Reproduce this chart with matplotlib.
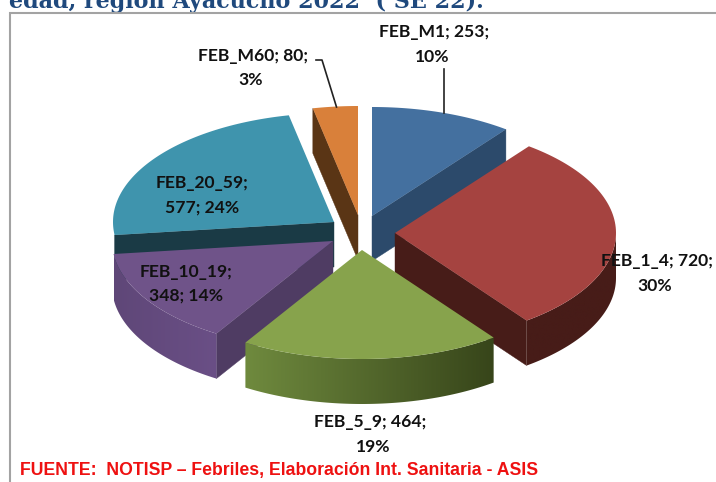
import numpy as np
import matplotlib
matplotlib.use("Agg")
import matplotlib.pyplot as plt
from matplotlib.colors import LinearSegmentedColormap
from matplotlib.patches import Polygon

categories = ["FEB_M1", "FEB_1_4", "FEB_5_9", "FEB_10_19", "FEB_20_59", "FEB_M60"]
values = [253, 720, 464, 348, 577, 80]
percents = [10, 30, 19, 14, 24, 3]

# look of each slice, in pixels of the 716x482 canvas
apex = {"FEB_M1": (372, 216), "FEB_1_4": (395, 233), "FEB_5_9": (362, 250),
        "FEB_10_19": (333, 241), "FEB_20_59": (334, 222), "FEB_M60": (358, 215)}
top_col = {"FEB_M1": "#44709f", "FEB_1_4": "#a54340", "FEB_5_9": "#87a34c",
           "FEB_10_19": "#6f5389", "FEB_20_59": "#3f94ad", "FEB_M60": "#d9803a"}
cut_col = {"FEB_M1": "#2c4a6b", "FEB_1_4": "#471c18", "FEB_5_9": "#3a4a1e",
           "FEB_10_19": "#4f3c63", "FEB_20_59": "#1a3a45", "FEB_M60": "#5a3515"}
# wall gradient, left to right
wall_col = {"FEB_1_4": ("#471c18", "#471c18"), "FEB_5_9": ("#6f8a3e", "#37451a"),
            "FEB_10_19": ("#5f4778", "#6a4f86")}
rx, ry, depth = 221, 109, 45

fig = plt.figure(figsize=(7.16, 4.82), dpi=100)
ax = fig.add_axes([0, 0, 1, 1])
ax.axis("off")

ends = np.cumsum(values) / np.sum(values) * 360
starts = np.concatenate([[0], ends[:-1]])
angles = {c: (s, e) for c, s, e in zip(categories, starts, ends)}
z = [1]


def next_z():
    z[0] += 1
    return z[0]


def rim(name, t0, t1, n=80):
    t = np.radians(np.linspace(t0, t1, n))
    cx, cy = apex[name]
    return np.column_stack([cx + rx * np.sin(t), cy - ry * np.cos(t)])


def cut_face(name, t):
    cx, cy = apex[name]
    p = rim(name, t, t, 1)[0]
    pts = [(cx, cy), p, (p[0], p[1] + depth), (cx, cy + depth)]
    ax.add_patch(Polygon(pts, fc=cut_col[name], ec=cut_col[name], lw=0.3, zorder=next_z()))


def wall(name):
    t0 = max(angles[name][0], 90)
    t1 = min(angles[name][1], 270)
    pts = rim(name, t0, t1)
    outline = np.vstack([pts, pts[::-1] + [0, depth]])
    shape = Polygon(outline, fc="none", ec="none")
    ax.add_patch(shape)
    cmap = LinearSegmentedColormap.from_list("w", wall_col[name])
    grad = np.linspace(0, 1, 256).reshape(1, -1)
    xs = pts[:, 0]
    img = ax.imshow(grad, cmap=cmap, aspect="auto", interpolation="bilinear", zorder=next_z(),
                    extent=(xs.min(), xs.max(), outline[:, 1].max(), outline[:, 1].min()))
    img.set_clip_path(shape)


def top(name):
    t0, t1 = angles[name]
    pts = np.vstack([[apex[name]], rim(name, t0, t1)])
    ax.add_patch(Polygon(pts, fc=top_col[name], ec="none", zorder=next_z()))


# back to front
cut_face("FEB_M60", angles["FEB_M60"][0])
top("FEB_M60")
cut_face("FEB_M1", angles["FEB_M1"][1])
top("FEB_M1")
cut_face("FEB_20_59", angles["FEB_20_59"][0])
top("FEB_20_59")
cut_face("FEB_10_19", angles["FEB_10_19"][0])
wall("FEB_10_19")
top("FEB_10_19")
cut_face("FEB_1_4", angles["FEB_1_4"][1])
wall("FEB_1_4")
top("FEB_1_4")
wall("FEB_5_9")
top("FEB_5_9")

# frame and leader lines
ax.plot([716, 10, 10], [12.7, 12.7, 482], color="#a3a3a3", lw=1.5, solid_joinstyle="miter", zorder=50)
ax.plot([444, 444], [69, 113], color="#222222", lw=1.2, zorder=50)
ax.plot([316, 322, 336.5], [60, 60, 107], color="#222222", lw=1.2, zorder=50)

ax.set_xlim(0, 716)
ax.set_ylim(482, 0)

label_style = dict(family="Lato", weight="bold", fontsize=12.6, color="#111111",
                   ha="center", va="center", zorder=60)
lab = dict(zip(categories, zip(values, percents)))


def txt(x, y, s):
    ax.text(x, y, s, **label_style)


txt(434, 32, f"FEB_M1; {lab['FEB_M1'][0]};")
txt(432, 57, f"{lab['FEB_M1'][1]}%")
txt(253, 56, f"FEB_M60; {lab['FEB_M60'][0]};")
txt(251, 80, f"{lab['FEB_M60'][1]}%")
txt(657, 261, f"FEB_1_4; {lab['FEB_1_4'][0]};")
txt(655, 286, f"{lab['FEB_1_4'][1]}%")
txt(370, 422, f"FEB_5_9; {lab['FEB_5_9'][0]};")
txt(373, 447, f"{lab['FEB_5_9'][1]}%")
txt(202, 183, "FEB_20_59;")
txt(202, 208, f"{lab['FEB_20_59'][0]}; {lab['FEB_20_59'][1]}%")
txt(186, 272, "FEB_10_19;")
txt(186, 296, f"{lab['FEB_10_19'][0]}; {lab['FEB_10_19'][1]}%")

ax.text(9, 1, "edad, región Ayacucho 2022  ( SE 22).", family="DejaVu Serif", weight="bold",
        fontsize=16, color="#1f497d", ha="left", va="center", clip_on=True)
ax.text(20, 470, "FUENTE:  NOTISP – Febriles, Elaboración Int. Sanitaria - ASIS",
        family="Liberation Sans", weight="bold", fontsize=12.7, color="#ee1111",
        ha="left", va="center")

fig.savefig("out.png", dpi=100)
